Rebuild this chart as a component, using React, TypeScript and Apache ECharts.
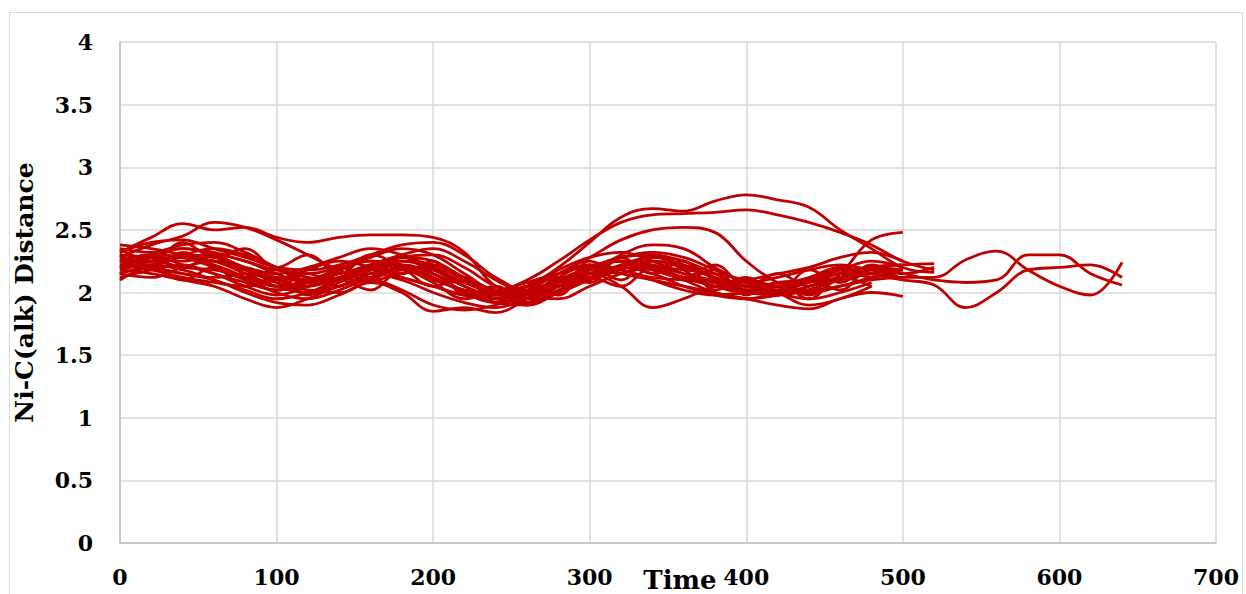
import React, { useEffect, useRef } from "react";
import * as echarts from "echarts";

// time steps (shared by all runs; each run uses a prefix)
const timeSteps = [0, 20, 40, 60, 80, 100, 120, 140, 160, 180, 200, 220, 240, 260, 280, 300, 320, 340, 360, 380, 400, 420, 440, 460, 480, 500, 520, 540, 560, 580, 600, 620, 640];

const run1 = [2.32, 2.44, 2.55, 2.5, 2.52, 2.44, 2.4, 2.44, 2.46, 2.46, 2.44, 2.32, 2.05, 2.0, 2.1, 2.18, 2.25, 2.2, 2.12, 2.05, 2.02, 2.08, 2.1, 2.15, 2.2, 2.18];
const run2 = [2.28, 2.38, 2.45, 2.56, 2.52, 2.42, 2.3, 2.18, 2.1, 2.15, 2.22, 2.12, 2.0, 1.95, 2.05, 2.15, 2.2, 2.28, 2.25, 2.1, 2.0, 1.98, 2.05, 2.12, 2.2, 2.22];
const run3 = [2.25, 2.3, 2.28, 2.2, 2.1, 2.02, 2.05, 2.12, 2.2, 2.25, 2.18, 2.05, 1.98, 2.05, 2.2, 2.4, 2.6, 2.67, 2.65, 2.73, 2.78, 2.74, 2.68, 2.5, 2.35, 2.2, 2.16];
const run4 = [2.2, 2.25, 2.3, 2.35, 2.3, 2.2, 2.12, 2.1, 2.18, 2.28, 2.2, 2.08, 2.02, 2.1, 2.25, 2.42, 2.56, 2.62, 2.63, 2.64, 2.66, 2.62, 2.56, 2.48, 2.38, 2.25, 2.18];
const run5 = [2.22, 2.18, 2.12, 2.08, 2.05, 2.1, 2.18, 2.25, 2.2, 2.12, 2.05, 1.98, 1.95, 2.0, 2.08, 2.15, 2.2, 2.18, 2.12, 2.08, 2.05, 2.05, 1.98, 2.15, 2.42, 2.48];
const run6 = [2.15, 2.12, 2.2, 2.25, 2.18, 2.08, 2.0, 2.05, 2.15, 2.2, 2.12, 2.0, 1.95, 2.02, 2.15, 2.28, 2.42, 2.5, 2.52, 2.48, 2.25, 2.08, 2.02, 2.05, 2.1, 2.12];
const run7 = [2.18, 2.15, 2.1, 2.05, 1.95, 1.88, 1.95, 2.05, 2.1, 2.02, 1.9, 1.86, 1.9, 2.0, 2.1, 2.15, 2.05, 1.88, 1.95, 2.05, 2.1, 2.0, 1.9, 1.95, 2.05];
const run8 = [2.22, 2.2, 2.15, 2.1, 2.0, 1.92, 1.9, 1.98, 2.08, 2.0, 1.85, 1.88, 1.84, 1.95, 2.08, 2.2, 2.25, 2.18, 2.1, 2.0, 1.95, 1.9, 1.87, 1.95, 2.0, 1.97];
const run9 = [2.3, 2.28, 2.25, 2.3, 2.25, 2.15, 2.08, 2.1, 2.18, 2.25, 2.22, 2.1, 2.0, 1.98, 2.08, 2.2, 2.25, 2.22, 2.15, 2.1, 2.08, 2.12, 2.18, 2.22, 2.18, 2.15];
const run10 = [2.35, 2.32, 2.38, 2.4, 2.32, 2.2, 2.1, 2.12, 2.2, 2.28, 2.3, 2.2, 2.05, 2.0, 2.05, 2.15, 2.3, 2.38, 2.35, 2.2, 2.08, 2.05, 2.1, 2.18, 2.25, 2.2];
const run11 = [2.12, 2.18, 2.22, 2.15, 2.08, 2.02, 2.08, 2.18, 2.28, 2.35, 2.3, 2.15, 2.0, 1.95, 2.0, 2.1, 2.18, 2.25, 2.2, 2.12, 2.05, 2.0, 2.02, 2.1, 2.15];
const run12 = [2.25, 2.2, 2.15, 2.12, 2.15, 2.1, 2.05, 2.12, 2.22, 2.3, 2.35, 2.25, 2.1, 1.98, 1.95, 2.05, 2.15, 2.2, 2.18, 2.15, 2.1, 2.05, 2.0, 2.05, 2.12, 2.18];
const run13 = [2.28, 2.25, 2.3, 2.28, 2.18, 2.08, 2.02, 2.0, 2.1, 2.18, 2.15, 2.0, 1.92, 1.9, 2.0, 2.12, 2.22, 2.28, 2.22, 2.12, 2.02, 1.98, 2.02, 2.12, 2.2, 2.22, 2.23];
const run14 = [2.2, 2.28, 2.35, 2.32, 2.25, 2.18, 2.15, 2.2, 2.25, 2.2, 2.1, 2.02, 1.98, 2.0, 2.1, 2.2, 2.28, 2.3, 2.25, 2.15, 2.05, 2.05, 2.1, 2.15, 2.12];
const run15 = [2.38, 2.35, 2.3, 2.25, 2.2, 2.15, 2.2, 2.28, 2.35, 2.3, 2.2, 2.08, 2.0, 2.05, 2.15, 2.22, 2.18, 2.12, 2.1, 2.08, 2.1, 2.15, 2.2, 2.28, 2.32, 2.25];
const run16 = [2.15, 2.22, 2.28, 2.22, 2.12, 2.0, 1.95, 2.02, 2.12, 2.2, 2.18, 2.05, 1.95, 1.92, 2.05, 2.18, 2.28, 2.32, 2.28, 2.18, 2.08, 2.0, 1.95, 2.0, 2.08];
const run17 = [2.32, 2.4, 2.42, 2.35, 2.28, 2.2, 2.18, 2.22, 2.3, 2.38, 2.4, 2.3, 2.12, 2.02, 2.05, 2.12, 2.2, 2.25, 2.2, 2.12, 2.05, 2.02, 2.08, 2.15, 2.18, 2.15];
const run18 = [2.25, 2.3, 2.22, 2.15, 2.05, 1.98, 2.05, 2.15, 2.18, 2.12, 2.05, 1.98, 2.0, 2.08, 2.15, 2.2, 2.15, 2.1, 2.05, 2.0, 1.95, 2.0, 2.1, 2.18, 2.15, 2.1];
const run19 = [2.22, 2.25, 2.2, 2.18, 2.12, 2.05, 2.1, 2.18, 2.25, 2.22, 2.12, 2.02, 1.98, 2.05, 2.18, 2.28, 2.32, 2.25, 2.15, 2.08, 2.02, 2.05, 2.1, 2.15, 2.18, 2.12, 2.12, 2.26, 2.33, 2.18, 2.05, 1.98, 2.24];
const run20 = [2.26, 2.22, 2.28, 2.25, 2.15, 2.05, 2.0, 2.08, 2.18, 2.22, 2.15, 2.0, 1.92, 1.98, 2.12, 2.22, 2.18, 2.1, 2.02, 1.98, 2.0, 2.05, 2.12, 2.2, 2.15, 2.1, 2.06, 1.88, 2.0, 2.18, 2.2, 2.22, 2.12];
const run21 = [2.2, 2.3, 2.35, 2.3, 2.2, 2.12, 2.1, 2.15, 2.22, 2.28, 2.25, 2.12, 2.02, 2.0, 2.1, 2.2, 2.25, 2.2, 2.12, 2.05, 2.0, 2.02, 2.08, 2.12, 2.18, 2.15, 2.1, 2.08, 2.1, 2.3, 2.3, 2.15, 2.06];
const run22 = [2.18, 2.22, 2.18, 2.1, 2.02, 1.95, 2.0, 2.1, 2.15, 2.1, 2.0, 1.92, 1.88, 1.95, 2.05, 2.15, 2.2, 2.15, 2.05, 1.98, 1.95, 1.98, 2.05, 2.1, 2.15, 2.18];
const run23 = [2.3, 2.2, 2.32, 2.2, 2.12, 2.18, 2.05, 2.2, 2.12, 2.28, 2.15, 2.05, 1.92, 2.05, 1.98, 2.2, 2.1, 2.3, 2.18, 2.05, 2.12, 1.98, 2.1, 2.02, 2.2, 2.1];
const run24 = [2.15, 2.28, 2.2, 2.3, 2.15, 2.05, 2.15, 2.05, 2.22, 2.15, 2.25, 1.98, 2.05, 1.92, 2.12, 2.08, 2.28, 2.15, 2.25, 2.02, 2.1, 2.0, 2.18, 2.08, 2.22, 2.15, 2.2];
const run25 = [2.35, 2.25, 2.4, 2.28, 2.35, 2.2, 2.3, 2.15, 2.3, 2.2, 2.05, 2.12, 1.95, 2.08, 2.0, 2.25, 2.15, 2.32, 2.1, 2.18, 1.98, 2.08, 1.95, 2.12, 2.05];
const run26 = [2.1, 2.2, 2.1, 2.2, 2.05, 2.12, 1.98, 2.1, 2.02, 2.18, 2.08, 1.95, 2.0, 1.9, 2.02, 2.12, 2.05, 2.2, 2.12, 2.22, 2.05, 2.15, 2.05, 2.2, 2.12, 2.2];

const runs = [run1, run2, run3, run4, run5, run6, run7, run8, run9, run10, run11, run12, run13, run14, run15, run16, run17, run18, run19, run20, run21, run22, run23, run24, run25, run26];

const xTicks = { min: 0, max: 700, interval: 100 };
const yTicks = { min: 0, max: 4, interval: 0.5 };

const FONT = "DejaVu Serif";

export default function App() {
  const ref = useRef<HTMLDivElement>(null);
  useEffect(() => {
    if (!ref.current) return;
    const chart = echarts.init(ref.current, null, { renderer: "svg" });
    const series = runs.map((vals, i) => ({
      type: "line",
      name: "run" + (i + 1),
      data: vals.map((v, j) => [timeSteps[j], v]),
      showSymbol: false,
      smooth: 0.4,
      lineStyle: { color: "#C00000", width: 2.8 },
      itemStyle: { color: "#C00000" },
      emphasis: { disabled: true },
    }));
    chart.setOption({
      animation: false,
      backgroundColor: "#ffffff",
      grid: { left: 120, right: 30, top: 42, bottom: 51, containLabel: false },
      graphic: [
        {
          type: "rect",
          shape: { x: 9.5, y: 12.5, width: 1233, height: 600 },
          style: { fill: "none", stroke: "#d9d9d9", lineWidth: 1 },
          silent: true,
          z: -1,
        },
        {
          type: "text",
          x: 680,
          y: 580,
          style: {
            text: "Time",
            font: `bold 26px "${FONT}"`,
            fill: "#000",
            align: "center",
            verticalAlign: "middle",
          },
        },
      ],
      xAxis: {
        type: "value",
        ...xTicks,
        axisLine: { show: true, lineStyle: { color: "#bfbfbf", width: 1.5 } },
        axisTick: { show: false },
        splitLine: { show: true, lineStyle: { color: "#d9d9d9", width: 1.5 } },
        axisLabel: { margin: 23, color: "#000", fontFamily: FONT, fontWeight: "bold", fontSize: 22 },
      },
      yAxis: {
        type: "value",
        ...yTicks,
        name: "Ni-C(alk) Distance",
        nameLocation: "middle",
        nameRotate: 90,
        nameGap: 83,
        nameTextStyle: { color: "#000", fontFamily: FONT, fontWeight: "bold", fontSize: 25 },
        axisLine: { show: true, lineStyle: { color: "#bfbfbf", width: 1.5 } },
        axisTick: { show: false },
        splitLine: { show: true, lineStyle: { color: "#d9d9d9", width: 1.5 } },
        axisLabel: { margin: 27, color: "#000", fontFamily: FONT, fontWeight: "bold", fontSize: 22 },
      },
      series,
    });
    return () => chart.dispose();
  }, []);
  return (
    <div
      ref={ref}
      style={{ position: "fixed", left: 0, top: 0, width: 1246, height: 594, background: "#fff" }}
    />
  );
}
